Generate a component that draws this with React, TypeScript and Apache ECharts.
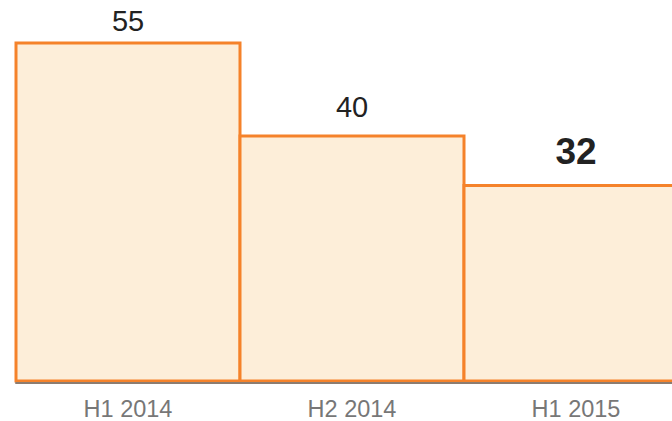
import React, { useEffect, useRef } from "react";
import * as echarts from "echarts";

const categories = ["H1 2014", "H2 2014", "H1 2015"];
const values = [55, 40, 32];
const boldFlags = [false, false, true];
const labelGaps = [6, 13, 14];

export default function App() {
  const ref = useRef<HTMLDivElement>(null);
  useEffect(() => {
    if (!ref.current) return;
    const chart = echarts.init(ref.current, null, { renderer: "svg" });
    chart.setOption({
      animation: false,
      grid: { left: 16, width: 672, top: 10.5, bottom: 38.5, containLabel: false, outerBoundsMode: "none" },
      xAxis: {
        type: "category",
        data: categories,
        axisLine: { show: true, lineStyle: { color: "#8c7c70", width: 2 } },
        axisTick: { show: false },
        axisLabel: {
          color: "#777777",
          fontSize: 23.5,
          lineHeight: 20,
          fontFamily: "Liberation Sans, Arial, sans-serif",
          margin: 16,
        },
        z: 10,
      },
      yAxis: { type: "value", min: 0, max: 60, show: false, splitLine: { show: false } },
      series: [
        {
          type: "bar",
          barWidth: 227,
          barGap: "0%",
          data: values.map((v, i) => ({
            value: v,
            label: {
              show: true,
              position: "top",
              distance: labelGaps[i],
              fontSize: boldFlags[i] ? 37 : 29,
              fontWeight: boldFlags[i] ? "bold" : "normal",
              color: "#222222",
              fontFamily: "Liberation Sans, Arial, sans-serif",
            },
          })),
          itemStyle: { color: "#fdeed9", borderColor: "#f5822a", borderWidth: 3 },
        },
      ],
    });
    return () => chart.dispose();
  }, []);
  return (
    <div
      ref={ref}
      style={{ position: "fixed", left: 0, top: 0, width: 672, height: 421, background: "#ffffff" }}
    />
  );
}
